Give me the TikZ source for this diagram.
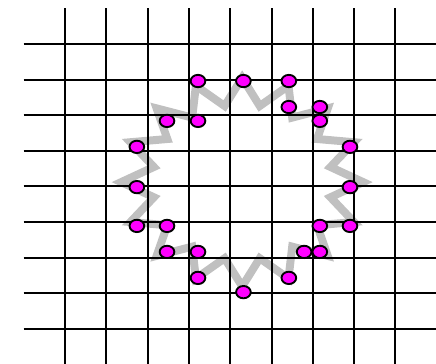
\documentclass[tikz,border=0pt]{standalone}
\usetikzlibrary{shapes.geometric}
\definecolor{dotpink}{RGB}{255,0,255}
\definecolor{bandgray}{RGB}{192,192,192}

\begin{document}
\begin{tikzpicture}[x=1.239cm, y=1.068cm,
    gridline/.style={black, line width=1.7pt},
    starline/.style={bandgray, line width=6.8pt, line join=miter},
    pinkdot/.style={ellipse, draw=black, fill=dotpink, line width=1.6pt,
        inner sep=0pt, minimum width=0.44cm, minimum height=0.37cm}]
    % frame
    \useasboundingbox (-1.574,-8.961) rectangle (8.983,1.236);
    \clip (-1.574,-8.961) rectangle (8.983,1.236);

    % Star band
    \begin{scope}[shift={(4.29,-3.88)}]
        \draw[starline] (78.75:2.18)
            \foreach \k in {1,...,15} { -- ({90-\k*22.5}:2.93) -- ({78.75-\k*22.5}:2.18) }
            -- (90:2.93) -- cycle;
    \end{scope}

    % Grid
    \foreach \i in {0,...,8} {
        \draw[gridline] (\i,1) -- (\i,-9);
        \draw[gridline] (-1,-\i) -- (9,-\i);
    }

    % Top
    \node[pinkdot] (t1) at (3.22,-1.04) {};
    \node[pinkdot] (t2) at (4.32,-1.04) {};
    \node[pinkdot] (t3) at (5.42,-1.04) {};
    \node[pinkdot] (t4) at (5.42,-1.77) {};
    \node[pinkdot] (t5) at (6.17,-1.77) {};
    \node[pinkdot] (t6) at (2.47,-2.16) {};
    \node[pinkdot] (t7) at (3.22,-2.16) {};
    \node[pinkdot] (t8) at (6.17,-2.16) {};

    % Sides
    \node[pinkdot] (s1) at (1.74,-2.89) {};
    \node[pinkdot] (s2) at (6.90,-2.89) {};
    \node[pinkdot] (s3) at (1.74,-4.02) {};
    \node[pinkdot] (s4) at (6.90,-4.02) {};
    \node[pinkdot] (s5) at (1.74,-5.11) {};
    \node[pinkdot] (s6) at (2.47,-5.11) {};
    \node[pinkdot] (s7) at (6.17,-5.11) {};
    \node[pinkdot] (s8) at (6.90,-5.11) {};

    % Bottom
    \node[pinkdot] (b1) at (2.47,-5.84) {};
    \node[pinkdot] (b2) at (3.22,-5.84) {};
    \node[pinkdot] (b3) at (5.79,-5.84) {};
    \node[pinkdot] (b4) at (6.17,-5.84) {};
    \node[pinkdot] (b5) at (3.22,-6.57) {};
    \node[pinkdot] (b6) at (5.42,-6.57) {};
    \node[pinkdot] (b7) at (4.32,-6.97) {};
\end{tikzpicture}
\end{document}
